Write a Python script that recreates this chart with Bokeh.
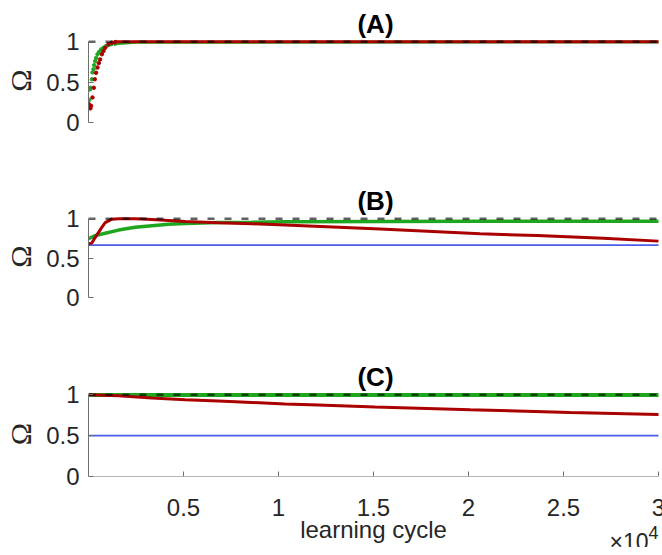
from bokeh.plotting import figure
from bokeh.layouts import column
from bokeh.models import FixedTicker, Range1d
from bokeh.core.properties import value
from bokeh.embed import file_html
from bokeh.resources import INLINE

# ---- data -------------------------------------------------------------
# (A) early learning samples, then the settled plateau
a_x_green = [37, 74, 105, 179, 210, 263, 300, 353, 405, 474, 563, 668, 789, 916, 1053, 1200, 1400]
a_y_green = [0.28, 0.41, 0.43, 0.535, 0.62, 0.66, 0.71, 0.76, 0.80, 0.845, 0.875, 0.905, 0.925, 0.945, 0.96, 0.97, 0.975]
a_x_green_tail = [1400, 2500, 30000]
a_y_green_tail = [0.975, 0.993, 0.997]
a_x_red = [16, 30, 68, 100, 137, 210, 279, 332, 400, 474, 542, 610, 705, 789, 879, 1053, 1232, 1405]
a_y_red = [0.227, 0.2, 0.185, 0.175, 0.206, 0.31, 0.43, 0.535, 0.615, 0.68, 0.735, 0.78, 0.845, 0.885, 0.925, 0.968, 0.988, 0.996]
a_x_red_tail = [1405, 30000]
a_y_red_tail = [1.0, 1.0]

# (B)
b_x_green = [0, 350, 880, 1580, 2460, 3340, 4210, 5090, 6830, 8600, 10350, 15350, 20610, 25000, 30000]
b_y_green = [0.745, 0.785, 0.815, 0.855, 0.89, 0.91, 0.93, 0.94, 0.95, 0.955, 0.962, 0.965, 0.966, 0.967, 0.968]
b_x_red = [0, 175, 350, 700, 880, 1230, 1580, 2460, 3340, 5090, 6830, 8600, 10350, 15350, 20610, 23600, 27090, 30000]
b_y_red = [0.68, 0.69, 0.76, 0.89, 0.95, 0.993, 1.0, 1.0, 0.99, 0.965, 0.948, 0.935, 0.918, 0.87, 0.808, 0.785, 0.75, 0.715]
b_blue = 0.665

# (C)
c_x_green = [0, 30000]
c_y_green = [0.998, 0.998]
c_x_red = [0, 1580, 3340, 5090, 6840, 8600, 10350, 12100, 15090, 20090, 25350, 30000]
c_y_red = [1.0, 0.988, 0.96, 0.94, 0.923, 0.906, 0.886, 0.874, 0.85, 0.817, 0.784, 0.758]
c_blue = 0.5

reference_level = 1.0
x_span = [0, 30000]

y_ticks = [0, 0.5, 1]
x_ticks = [5000, 10000, 15000, 20000, 25000, 30000]
x_tick_labels = ["0.5", "1", "1.5", "2", "2.5", "3"]

titles = ["(A)", "(B)", "(C)"]
x_label = "learning cycle"
x_scale_base = "×10"
x_scale_exp = "4"

# ---- styling ----------------------------------------------------------
RED = "#aa0000"
GREEN = "#1fa61f"
BLUE = "#4b5ce8"
TXT = "#262626"
AXC = "#6e6e6e"
FONT = "Liberation Sans"
X_END = 30210
x_range = Range1d(0, X_END)


def base_fig(**kw):
    p = figure(frame_width=574, min_border_left=88, min_border_right=0,
               x_range=x_range, output_backend="svg", toolbar_location=None, **kw)
    p.outline_line_color = None
    p.xgrid.visible = False
    p.ygrid.visible = False
    p.background_fill_color = "white"
    p.border_fill_color = "white"
    return p


def make_panel(title, top, frame_h, bottom, y_end, with_x_axis):
    p = base_fig(frame_height=frame_h, min_border_top=top, min_border_bottom=bottom,
                 y_range=(0, y_end),
                 x_axis_location="below" if with_x_axis else None)

    p.title.text = title
    p.title.align = "center"
    p.title.text_font = FONT
    p.title.text_font_style = "bold"
    p.title.text_font_size = "26px"
    p.title.text_color = "black"
    p.title.standoff = 0

    ya = p.yaxis[0]
    ya.ticker = FixedTicker(ticks=y_ticks)
    ya.bounds = (0, 1)
    ya.axis_label = "Ω"
    ya.axis_label_text_font = "Liberation Serif"
    ya.axis_label_text_font_style = "normal"
    ya.axis_label_text_font_size = "30px"
    ya.axis_label_text_color = TXT
    ya.axis_label_standoff = 6
    ya.major_label_text_font = FONT
    ya.major_label_text_font_size = "24px"
    ya.major_label_text_color = TXT
    ya.major_label_standoff = 9
    ya.major_tick_in = 5
    ya.major_tick_out = 0
    ya.minor_tick_line_color = None
    ya.axis_line_color = AXC
    ya.major_tick_line_color = AXC

    if with_x_axis:
        # axis rule pinned at y = 0 with inward tick marks;
        # the numbers are set in the strip below
        xa = p.xaxis[0]
        xa.fixed_location = 0
        xa.ticker = FixedTicker(ticks=[], minor_ticks=x_ticks)
        xa.bounds = (0, 30000)
        xa.major_label_standoff = 0
        xa.major_tick_in = 0
        xa.major_tick_out = 0
        xa.minor_tick_in = 5
        xa.minor_tick_out = 0
        xa.minor_tick_line_color = AXC
        xa.axis_line_color = AXC
    return p


def ref_line(p):
    p.line(x_span, [reference_level, reference_level], line_color="black",
           line_alpha=0.62, line_width=2.5, line_dash="7 10")


# (A)
pa = make_panel(titles[0], 38, 84, 48, 1.04, False)
pa.line(a_x_green_tail, a_y_green_tail, line_color=GREEN, line_width=3)
pa.scatter(a_x_green, a_y_green, size=3.5, color=GREEN)
pa.line(a_x_red_tail, a_y_red_tail, line_color=RED, line_width=3)
pa.scatter(a_x_red, a_y_red, size=3.5, color=RED)
ref_line(pa)

# (B)
pb = make_panel(titles[1], 45, 82, 53, 1.04, False)
pb.line(x_span, [b_blue, b_blue], line_color=BLUE, line_width=1.8)
pb.line(b_x_green, b_y_green, line_color=GREEN, line_width=3.5)
pb.line(b_x_red, b_y_red, line_color=RED, line_width=3)
ref_line(pb)

# (C)
pc = make_panel(titles[2], 41, 85, 14, 1.04, True)
pc.line(x_span, [c_blue, c_blue], line_color=BLUE, line_width=1.8)
pc.line(c_x_green, c_y_green, line_color=GREEN, line_width=4)
pc.line(c_x_red, c_y_red, line_color=RED, line_width=3)
ref_line(pc)

# strip under (C): tick numbers, axis name and the ×10^4 scale factor
# (y runs downward here, in pixels from the strip's top edge)
pd = base_fig(frame_height=57, min_border_top=0, min_border_bottom=0,
              y_range=Range1d(57, 0), x_axis_location=None, y_axis_location=None)
text_style = dict(text_baseline="alphabetic", text_font=value(FONT), text_color=TXT)
pd.text(x=x_ticks, y=[17] * len(x_ticks), text=x_tick_labels, text_align="center",
        text_font_size="24px", **text_style)
pd.text(x=[15000], y=[39], text=[x_label], text_align="center",
        text_font_size="24px", **text_style)
pd.text(x=[30000], y=[51], text=[x_scale_base], x_offset=-10, text_align="right",
        text_font_size="23px", **text_style)
pd.text(x=[30000], y=[42], text=[x_scale_exp], text_align="right",
        text_font_size="18px", **text_style)

layout = column(pa, pb, pc, pd, spacing=0)
open("out.html", "w").write(file_html(layout, INLINE))
